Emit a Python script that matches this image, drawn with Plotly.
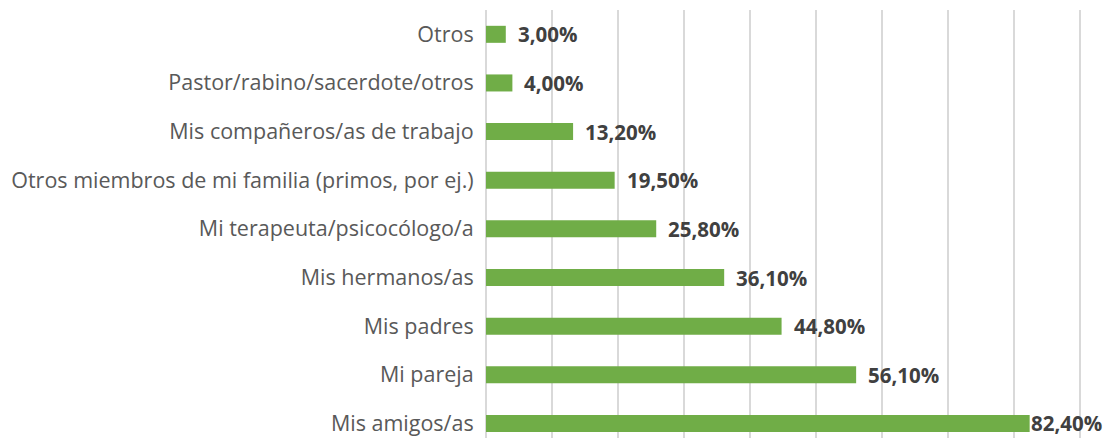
import plotly.graph_objects as go

categories = ["Mis amigos/as", "Mi pareja", "Mis padres", "Mis hermanos/as",
              "Mi terapeuta/psicocólogo/a", "Otros miembros de mi familia (primos, por ej.)",
              "Mis compañeros/as de trabajo", "Pastor/rabino/sacerdote/otros", "Otros"]
values = [82.4, 56.1, 44.8, 36.1, 25.8, 19.5, 13.2, 4.0, 3.0]
labels = ["82,40%", "56,10%", "44,80%", "36,10%", "25,80%", "19,50%", "13,20%", "4,00%", "3,00%"]

fig = go.Figure(go.Bar(
    x=values, y=categories, orientation="h",
    marker=dict(color="#70AD47", line=dict(width=0)),
    width=0.35,
))

for i, (v, c, t) in enumerate(zip(values, categories, labels)):
    fig.add_annotation(x=v, y=c, text="<b>%s</b>" % t, showarrow=False,
                       xanchor="left", yanchor="middle",
                       xshift=-1 if i == 0 else 10,
                       font=dict(family="Open Sans", size=20.5, color="#404040"))

fig.update_layout(
    width=1104, height=438,
    margin=dict(l=486, r=11, t=10, b=0),
    plot_bgcolor="white", paper_bgcolor="white",
    showlegend=False,
    font=dict(family="Open Sans", size=21.5, color="#595959"),
)
fig.update_xaxes(range=[0, 92], dtick=10, showticklabels=False,
                 showgrid=True, gridcolor="#D9D9D9", gridwidth=1.5,
                 zeroline=True, zerolinecolor="#D9D9D9", zerolinewidth=1.5,
                 showline=False, automargin=False)
fig.update_yaxes(type="category", range=[-0.3, 8.5], showgrid=False,
                 ticks="outside", ticklen=7, tickcolor="rgba(0,0,0,0)",
                 automargin=False,
                 tickfont=dict(family="Open Sans", size=21.5, color="#595959"))

fig.write_html("out.html", config={"displayModeBar": False},
               post_script="document.body.style.margin='0';")
